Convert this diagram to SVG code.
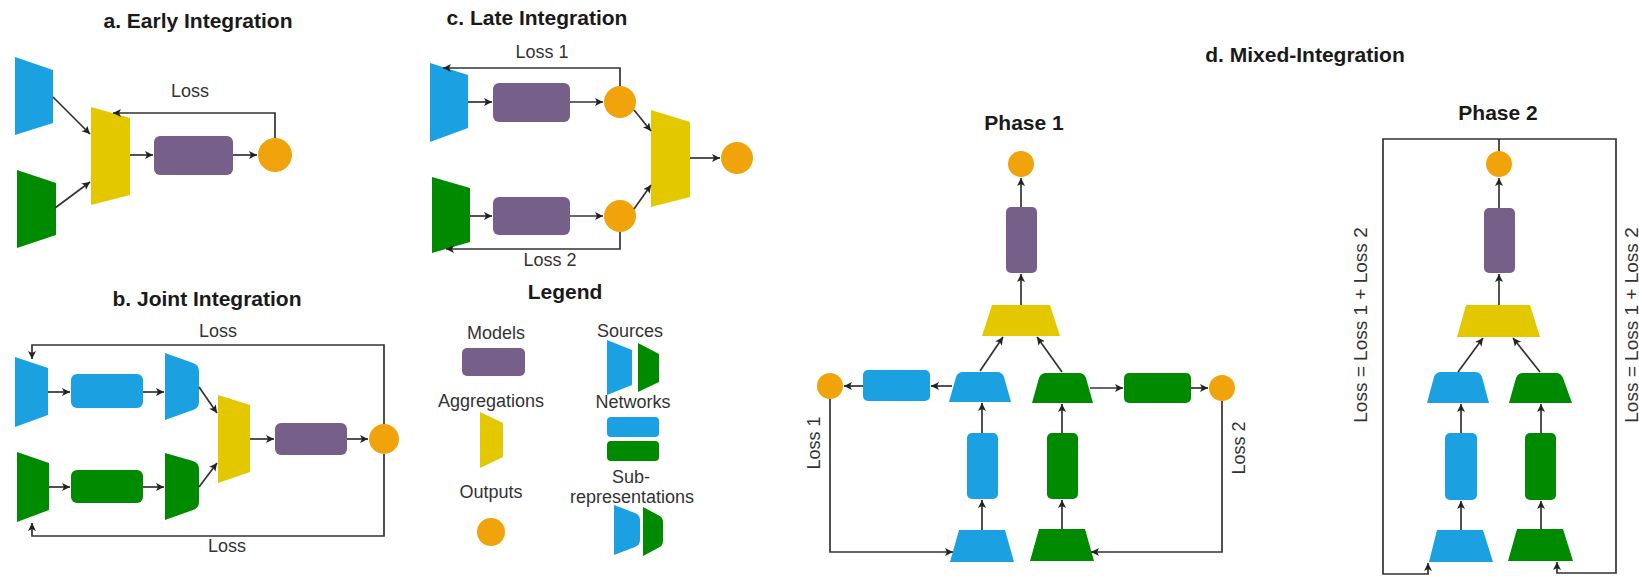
<svg xmlns="http://www.w3.org/2000/svg" width="1639" height="576" viewBox="0 0 1639 576">
<defs>
<style>
.title{font-family:"Liberation Sans",Arial,sans-serif;font-weight:bold;font-size:21px;fill:#1a1a1a;text-anchor:middle}
.lbl{font-family:"Liberation Sans",Arial,sans-serif;font-size:18px;fill:#333;text-anchor:middle}
.vl{font-family:"Liberation Sans",Arial,sans-serif;font-size:18px;fill:#333;text-anchor:middle;dominant-baseline:central}
.vl2{font-family:"Liberation Sans",Arial,sans-serif;font-size:19px;fill:#333;text-anchor:middle;dominant-baseline:central}
.blue{fill:#1ba1e2}
.green{fill:#008a00}
.yellow{fill:#e3c800}
.purple{fill:#76608a}
.orange{fill:#f0a30a}
.edge{fill:none;stroke:#333;stroke-width:1.7;marker-end:url(#arr)}
.line{fill:none;stroke:#333;stroke-width:1.7}
</style>
<marker id="arr" markerUnits="userSpaceOnUse" markerWidth="10" markerHeight="10" refX="8" refY="4" orient="auto">
<path d="M0,0 L8,4 L0,8 L2,4 Z" fill="#222"/>
</marker>
</defs>
<rect width="1639" height="576" fill="#fff"/>

<!-- Titles -->
<g id="titles">
<text class="title" x="198" y="28">a. Early Integration</text>
<text class="title" x="207" y="306">b. Joint Integration</text>
<text class="title" x="537" y="25">c. Late Integration</text>
<text class="title" x="565" y="299">Legend</text>
<text class="title" x="1305" y="62">d. Mixed-Integration</text>
<text class="title" x="1024" y="130">Phase 1</text>
<text class="title" x="1498" y="120">Phase 2</text>
</g>

<!-- Panel a -->
<g id="a-src-blue"><polygon class="blue" points="15,57 53,70 53,123 15,135"/></g>
<g id="a-src-green"><polygon class="green" points="17,170 56,183 56,235 17,248"/></g>
<g id="a-agg"><polygon class="yellow" points="91,107 130,118 130,195 91,205"/></g>
<g id="a-model"><rect class="purple" x="154" y="136" width="79" height="39" rx="6"/></g>
<g id="a-out"><circle class="orange" cx="275" cy="155" r="17"/></g>

<!-- Panel b -->
<g id="b-src-blue"><polygon class="blue" points="15,357 48,368 48,415 15,427"/></g>
<g id="b-net-blue"><rect class="blue" x="71" y="374" width="72" height="34" rx="6"/></g>
<g id="b-sub-blue"><path class="blue" d="M165,353 L193,363 Q199,365 199,371 L199,402 Q199,408 193,410 L165,420 Z"/></g>
<g id="b-src-green"><polygon class="green" points="17,452 49,463 49,510 17,522"/></g>
<g id="b-net-green"><rect class="green" x="71" y="470" width="72" height="33" rx="6"/></g>
<g id="b-sub-green"><path class="green" d="M165,453 L193,461 Q199,463 199,469 L199,502 Q199,508 193,510 L165,520 Z"/></g>
<g id="b-agg"><polygon class="yellow" points="218,395 250,405 250,472 218,483"/></g>
<g id="b-model"><rect class="purple" x="275" y="423" width="72" height="32" rx="6"/></g>
<g id="b-out"><circle class="orange" cx="384" cy="439" r="15"/></g>

<!-- Panel c -->
<g id="c-src-blue"><polygon class="blue" points="430,63 468,75 468,128 430,142"/></g>
<g id="c-model-1"><rect class="purple" x="493" y="83" width="77" height="39" rx="6"/></g>
<g id="c-out-1"><circle class="orange" cx="620" cy="102" r="16"/></g>
<g id="c-src-green"><polygon class="green" points="432,177 470,188 470,242 432,253"/></g>
<g id="c-model-2"><rect class="purple" x="493" y="197" width="77" height="38" rx="6"/></g>
<g id="c-out-2"><circle class="orange" cx="620" cy="216" r="16"/></g>
<g id="c-agg"><polygon class="yellow" points="651,110 690,122 690,197 651,207"/></g>
<g id="c-out"><circle class="orange" cx="737" cy="158" r="16"/></g>

<!-- Legend -->
<g id="legend-models"><text class="lbl" x="496" y="339">Models</text><rect class="purple" x="462" y="348" width="63" height="28" rx="5"/></g>
<g id="legend-aggregations"><text class="lbl" x="491" y="407">Aggregations</text><polygon class="yellow" points="480,412 503,423 503,457 480,468"/></g>
<g id="legend-outputs"><text class="lbl" x="491" y="498">Outputs</text><circle class="orange" cx="491" cy="532" r="14"/></g>
<g id="legend-sources"><text class="lbl" x="630" y="337">Sources</text><polygon class="blue" points="607,340 632,350 632,385 607,395"/><polygon class="green" points="638,343 659,354 659,382 638,392"/></g>
<g id="legend-networks"><text class="lbl" x="633" y="408">Networks</text><rect class="blue" x="607" y="417" width="52" height="20" rx="4"/><rect class="green" x="607" y="441" width="52" height="20" rx="4"/></g>
<g id="legend-subrep"><text class="lbl" x="631" y="483">Sub-</text><text class="lbl" x="632" y="503">representations</text>
<path class="blue" d="M614,505 L635,513 Q640,515 640,520 L640,540 Q640,545 635,547 L614,555 Z"/>
<path class="green" d="M643,507 L658,515 Q663,517 663,522 L663,541 Q663,546 658,548 L643,556 Z"/></g>

<!-- Panel d, Phase 1 -->
<g id="p1-out"><circle class="orange" cx="1021" cy="164" r="13"/></g>
<g id="p1-model"><rect class="purple" x="1006" y="207" width="31" height="66" rx="5"/></g>
<g id="p1-agg"><polygon class="yellow" points="992,305 1050,305 1060,336 982,336"/></g>
<g id="p1-sub-blue"><path class="blue" d="M949,402 L956,377 Q958,372 963,372 L997,372 Q1002,372 1004,377 L1011,402 Z"/></g>
<g id="p1-sub-green"><path class="green" d="M1032,403 L1039,378 Q1041,373 1046,373 L1079,373 Q1084,373 1086,378 L1093,403 Z"/></g>
<g id="p1-net-blue-h"><rect class="blue" x="863" y="370" width="67" height="31" rx="5"/></g>
<g id="p1-out-left"><circle class="orange" cx="830" cy="386" r="13"/></g>
<g id="p1-net-green-h"><rect class="green" x="1124" y="373" width="67" height="30" rx="5"/></g>
<g id="p1-out-right"><circle class="orange" cx="1222" cy="388" r="13"/></g>
<g id="p1-net-blue-v"><rect class="blue" x="967" y="433" width="31" height="66" rx="5"/></g>
<g id="p1-net-green-v"><rect class="green" x="1047" y="433" width="31" height="66" rx="5"/></g>
<g id="p1-src-blue"><polygon class="blue" points="959,530 1005,530 1014,562 950,562"/></g>
<g id="p1-src-green"><polygon class="green" points="1039,529 1085,529 1094,561 1030,561"/></g>

<!-- Panel d, Phase 2 -->
<g id="p2-out"><circle class="orange" cx="1499" cy="164" r="13"/></g>
<g id="p2-model"><rect class="purple" x="1484" y="208" width="31" height="65" rx="5"/></g>
<g id="p2-agg"><polygon class="yellow" points="1466,305 1530,305 1540,337 1457,337"/></g>
<g id="p2-sub-blue"><path class="blue" d="M1427,403 L1434,377 Q1436,372 1441,372 L1475,372 Q1480,372 1482,377 L1489,403 Z"/></g>
<g id="p2-sub-green"><path class="green" d="M1509,403 L1516,378 Q1518,373 1523,373 L1556,373 Q1561,373 1563,378 L1572,403 Z"/></g>
<g id="p2-net-blue"><rect class="blue" x="1445" y="433" width="32" height="67" rx="5"/></g>
<g id="p2-net-green"><rect class="green" x="1525" y="433" width="31" height="67" rx="5"/></g>
<g id="p2-src-blue"><polygon class="blue" points="1437,530 1483,530 1493,562 1429,562"/></g>
<g id="p2-src-green"><polygon class="green" points="1517,529 1563,529 1573,561 1508,561"/></g>

<!-- Connectors -->
<g id="connectors">
<!-- a -->
<path class="edge" d="M53,97 L90,134"/>
<path class="edge" d="M55,208 L90,182"/>
<path class="edge" d="M130,155 L153,155"/>
<path class="edge" d="M233,155 L257,155"/>
<path class="edge" d="M275,138 V113 H113"/>
<!-- b -->
<path class="edge" d="M48,392 H70"/>
<path class="edge" d="M143,392 H164"/>
<path class="edge" d="M49,487 H70"/>
<path class="edge" d="M143,487 H164"/>
<path class="edge" d="M199,387 L217,413"/>
<path class="edge" d="M199,487 L217,463"/>
<path class="edge" d="M250,439 H274"/>
<path class="edge" d="M347,439 H368"/>
<path class="edge" d="M384,424 V345 H32 V359"/>
<path class="edge" d="M384,454 V536 H32 V523"/>
<!-- c -->
<path class="edge" d="M468,102 H492"/>
<path class="edge" d="M570,102 H603"/>
<path class="edge" d="M470,216 H492"/>
<path class="edge" d="M570,216 H603"/>
<path class="edge" d="M634,110 L651,131"/>
<path class="edge" d="M634,209 L651,185"/>
<path class="edge" d="M690,158 H720"/>
<path class="edge" d="M620,86 V68 H443"/>
<path class="edge" d="M620,232 V249 H446"/>
<!-- d phase 1 -->
<path class="edge" d="M1021,305 V274"/>
<path class="edge" d="M1021,207 V178"/>
<path class="edge" d="M980,371 L1003,337"/>
<path class="edge" d="M1062,372 L1037,337"/>
<path class="edge" d="M952,386 H931"/>
<path class="edge" d="M863,386 H844"/>
<path class="edge" d="M1090,388 H1123"/>
<path class="edge" d="M1191,388 H1208"/>
<path class="edge" d="M982,433 V403"/>
<path class="edge" d="M1062,433 V404"/>
<path class="edge" d="M982,530 V500"/>
<path class="edge" d="M1062,529 V500"/>
<path class="edge" d="M830,399 V552 H953"/>
<path class="edge" d="M1222,401 V552 H1091"/>
<!-- d phase 2 -->
<path class="edge" d="M1499,305 V274"/>
<path class="edge" d="M1499,208 V178"/>
<path class="edge" d="M1458,372 L1483,338"/>
<path class="edge" d="M1540,372 L1513,338"/>
<path class="edge" d="M1461,433 V404"/>
<path class="edge" d="M1541,433 V404"/>
<path class="edge" d="M1461,530 V501"/>
<path class="edge" d="M1541,529 V501"/>
<path class="line" d="M1499,151 V139"/>
<path class="edge" d="M1499,139 H1383 V574 H1428 V563"/>
<path class="edge" d="M1499,139 H1616 V573 H1557 V562"/>
</g>

<!-- Edge labels -->
<g id="edge-labels">
<text class="lbl" x="190" y="97">Loss</text>
<text class="lbl" x="218" y="337">Loss</text>
<text class="lbl" x="227" y="552">Loss</text>
<text class="lbl" x="542" y="58">Loss 1</text>
<text class="lbl" x="550" y="266">Loss 2</text>
<text class="vl" transform="translate(814,443) rotate(-90)">Loss 1</text>
<text class="vl" transform="translate(1239,448) rotate(-90)">Loss 2</text>
<text class="vl2" transform="translate(1360,325) rotate(-90)">Loss = Loss 1 + Loss 2</text>
<text class="vl2" transform="translate(1631,325) rotate(-90)">Loss = Loss 1 + Loss 2</text>
</g>
</svg>
